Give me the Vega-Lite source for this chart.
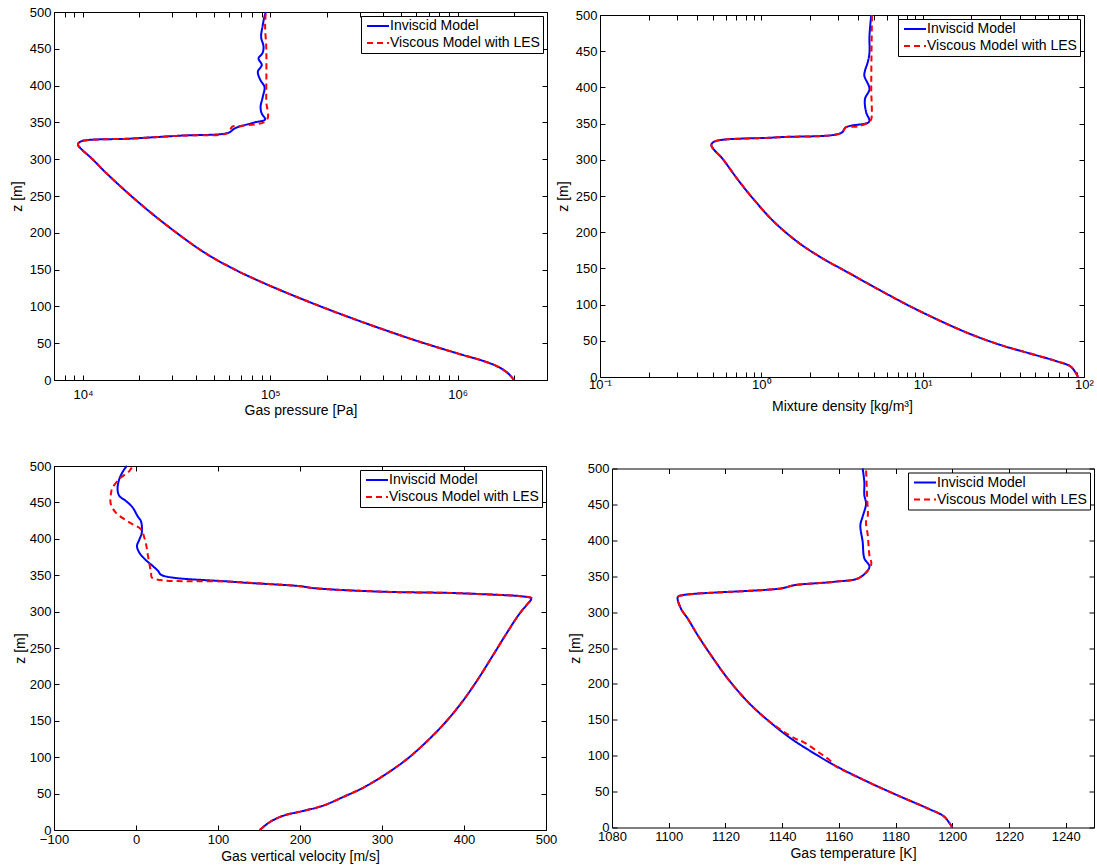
{
  "$schema": "https://vega.github.io/schema/vega-lite/v6.json",
  "padding": {"left": 9, "top": 5, "right": 2, "bottom": 2},
  "background": "white",
  "datasets": {
    "pressure": [
      {"model": "Inviscid Model", "z": 0, "value": 2000000},
      {"model": "Inviscid Model", "z": 9, "value": 1860000},
      {"model": "Inviscid Model", "z": 18, "value": 1643000},
      {"model": "Inviscid Model", "z": 26, "value": 1366000},
      {"model": "Inviscid Model", "z": 35, "value": 1033000},
      {"model": "Inviscid Model", "z": 52, "value": 626000},
      {"model": "Inviscid Model", "z": 68, "value": 408000},
      {"model": "Inviscid Model", "z": 84, "value": 272000},
      {"model": "Inviscid Model", "z": 102, "value": 176900},
      {"model": "Inviscid Model", "z": 122, "value": 113100},
      {"model": "Inviscid Model", "z": 137, "value": 82900},
      {"model": "Inviscid Model", "z": 150, "value": 64700},
      {"model": "Inviscid Model", "z": 173, "value": 44600},
      {"model": "Inviscid Model", "z": 208, "value": 28700},
      {"model": "Inviscid Model", "z": 245, "value": 19040},
      {"model": "Inviscid Model", "z": 281, "value": 13330},
      {"model": "Inviscid Model", "z": 300, "value": 11240},
      {"model": "Inviscid Model", "z": 320, "value": 9400},
      {"model": "Inviscid Model", "z": 324, "value": 9700},
      {"model": "Inviscid Model", "z": 328, "value": 18000},
      {"model": "Inviscid Model", "z": 332, "value": 33200},
      {"model": "Inviscid Model", "z": 336, "value": 59800},
      {"model": "Inviscid Model", "z": 342, "value": 64700},
      {"model": "Inviscid Model", "z": 350, "value": 82600},
      {"model": "Inviscid Model", "z": 354, "value": 93800},
      {"model": "Inviscid Model", "z": 362, "value": 90000},
      {"model": "Inviscid Model", "z": 371, "value": 88700},
      {"model": "Inviscid Model", "z": 385, "value": 91200},
      {"model": "Inviscid Model", "z": 398, "value": 93100},
      {"model": "Inviscid Model", "z": 408, "value": 88300},
      {"model": "Inviscid Model", "z": 419, "value": 85800},
      {"model": "Inviscid Model", "z": 428, "value": 90000},
      {"model": "Inviscid Model", "z": 437, "value": 86500},
      {"model": "Inviscid Model", "z": 444, "value": 90800},
      {"model": "Inviscid Model", "z": 453, "value": 92000},
      {"model": "Inviscid Model", "z": 466, "value": 89300},
      {"model": "Inviscid Model", "z": 480, "value": 90800},
      {"model": "Inviscid Model", "z": 494, "value": 93100},
      {"model": "Inviscid Model", "z": 500, "value": 94600},
      {"model": "Viscous Model with LES", "z": 0, "value": 2000000},
      {"model": "Viscous Model with LES", "z": 9, "value": 1860000},
      {"model": "Viscous Model with LES", "z": 18, "value": 1643000},
      {"model": "Viscous Model with LES", "z": 26, "value": 1366000},
      {"model": "Viscous Model with LES", "z": 35, "value": 1033000},
      {"model": "Viscous Model with LES", "z": 52, "value": 626000},
      {"model": "Viscous Model with LES", "z": 68, "value": 408000},
      {"model": "Viscous Model with LES", "z": 84, "value": 272000},
      {"model": "Viscous Model with LES", "z": 102, "value": 176900},
      {"model": "Viscous Model with LES", "z": 122, "value": 113100},
      {"model": "Viscous Model with LES", "z": 137, "value": 82900},
      {"model": "Viscous Model with LES", "z": 150, "value": 64700},
      {"model": "Viscous Model with LES", "z": 173, "value": 44600},
      {"model": "Viscous Model with LES", "z": 208, "value": 28700},
      {"model": "Viscous Model with LES", "z": 245, "value": 19040},
      {"model": "Viscous Model with LES", "z": 281, "value": 13330},
      {"model": "Viscous Model with LES", "z": 300, "value": 11240},
      {"model": "Viscous Model with LES", "z": 320, "value": 9400},
      {"model": "Viscous Model with LES", "z": 324, "value": 9700},
      {"model": "Viscous Model with LES", "z": 328, "value": 18000},
      {"model": "Viscous Model with LES", "z": 332, "value": 33200},
      {"model": "Viscous Model with LES", "z": 336, "value": 59800},
      {"model": "Viscous Model with LES", "z": 344, "value": 62400},
      {"model": "Viscous Model with LES", "z": 345.5, "value": 70500},
      {"model": "Viscous Model with LES", "z": 353, "value": 95700},
      {"model": "Viscous Model with LES", "z": 380, "value": 95100},
      {"model": "Viscous Model with LES", "z": 420, "value": 95300},
      {"model": "Viscous Model with LES", "z": 453, "value": 95100},
      {"model": "Viscous Model with LES", "z": 480, "value": 93800},
      {"model": "Viscous Model with LES", "z": 500, "value": 94600}
    ],
    "density": [
      {"model": "Inviscid Model", "z": 0, "value": 91.8},
      {"model": "Inviscid Model", "z": 14, "value": 83.2},
      {"model": "Inviscid Model", "z": 22, "value": 67.1},
      {"model": "Inviscid Model", "z": 32, "value": 47.0},
      {"model": "Inviscid Model", "z": 44, "value": 30.6},
      {"model": "Inviscid Model", "z": 59, "value": 19.9},
      {"model": "Inviscid Model", "z": 77, "value": 13.0},
      {"model": "Inviscid Model", "z": 97, "value": 8.47},
      {"model": "Inviscid Model", "z": 119, "value": 5.52},
      {"model": "Inviscid Model", "z": 142, "value": 3.60},
      {"model": "Inviscid Model", "z": 166, "value": 2.31},
      {"model": "Inviscid Model", "z": 186, "value": 1.69},
      {"model": "Inviscid Model", "z": 215, "value": 1.19},
      {"model": "Inviscid Model", "z": 246, "value": 0.891},
      {"model": "Inviscid Model", "z": 273, "value": 0.713},
      {"model": "Inviscid Model", "z": 301, "value": 0.577},
      {"model": "Inviscid Model", "z": 320, "value": 0.49},
      {"model": "Inviscid Model", "z": 325, "value": 0.51},
      {"model": "Inviscid Model", "z": 331, "value": 1.25},
      {"model": "Inviscid Model", "z": 337, "value": 3.12},
      {"model": "Inviscid Model", "z": 345, "value": 3.35},
      {"model": "Inviscid Model", "z": 351, "value": 4.57},
      {"model": "Inviscid Model", "z": 354, "value": 4.68},
      {"model": "Inviscid Model", "z": 366, "value": 4.46},
      {"model": "Inviscid Model", "z": 384, "value": 4.39},
      {"model": "Inviscid Model", "z": 398, "value": 4.68},
      {"model": "Inviscid Model", "z": 416, "value": 4.35},
      {"model": "Inviscid Model", "z": 423, "value": 4.39},
      {"model": "Inviscid Model", "z": 435, "value": 4.57},
      {"model": "Inviscid Model", "z": 448, "value": 4.68},
      {"model": "Inviscid Model", "z": 471, "value": 4.68},
      {"model": "Inviscid Model", "z": 500, "value": 4.80},
      {"model": "Viscous Model with LES", "z": 0, "value": 91.8},
      {"model": "Viscous Model with LES", "z": 14, "value": 83.2},
      {"model": "Viscous Model with LES", "z": 22, "value": 67.1},
      {"model": "Viscous Model with LES", "z": 32, "value": 47.0},
      {"model": "Viscous Model with LES", "z": 44, "value": 30.6},
      {"model": "Viscous Model with LES", "z": 59, "value": 19.9},
      {"model": "Viscous Model with LES", "z": 77, "value": 13.0},
      {"model": "Viscous Model with LES", "z": 97, "value": 8.47},
      {"model": "Viscous Model with LES", "z": 119, "value": 5.52},
      {"model": "Viscous Model with LES", "z": 142, "value": 3.60},
      {"model": "Viscous Model with LES", "z": 166, "value": 2.31},
      {"model": "Viscous Model with LES", "z": 186, "value": 1.69},
      {"model": "Viscous Model with LES", "z": 215, "value": 1.19},
      {"model": "Viscous Model with LES", "z": 246, "value": 0.891},
      {"model": "Viscous Model with LES", "z": 273, "value": 0.713},
      {"model": "Viscous Model with LES", "z": 301, "value": 0.577},
      {"model": "Viscous Model with LES", "z": 320, "value": 0.49},
      {"model": "Viscous Model with LES", "z": 325, "value": 0.51},
      {"model": "Viscous Model with LES", "z": 331, "value": 1.25},
      {"model": "Viscous Model with LES", "z": 337, "value": 3.12},
      {"model": "Viscous Model with LES", "z": 345, "value": 3.35},
      {"model": "Viscous Model with LES", "z": 346, "value": 3.95},
      {"model": "Viscous Model with LES", "z": 352.6, "value": 4.68},
      {"model": "Viscous Model with LES", "z": 356, "value": 4.80},
      {"model": "Viscous Model with LES", "z": 400, "value": 4.80},
      {"model": "Viscous Model with LES", "z": 450, "value": 4.82},
      {"model": "Viscous Model with LES", "z": 500, "value": 4.85}
    ],
    "velocity": [
      {"model": "Inviscid Model", "z": 0, "value": 151},
      {"model": "Inviscid Model", "z": 10, "value": 162},
      {"model": "Inviscid Model", "z": 19, "value": 178},
      {"model": "Inviscid Model", "z": 26, "value": 203},
      {"model": "Inviscid Model", "z": 33, "value": 227},
      {"model": "Inviscid Model", "z": 47, "value": 256},
      {"model": "Inviscid Model", "z": 58, "value": 277},
      {"model": "Inviscid Model", "z": 74, "value": 301},
      {"model": "Inviscid Model", "z": 97, "value": 330},
      {"model": "Inviscid Model", "z": 122, "value": 355},
      {"model": "Inviscid Model", "z": 150, "value": 379},
      {"model": "Inviscid Model", "z": 177, "value": 398.4},
      {"model": "Inviscid Model", "z": 205, "value": 415.8},
      {"model": "Inviscid Model", "z": 237, "value": 433.7},
      {"model": "Inviscid Model", "z": 269, "value": 451.3},
      {"model": "Inviscid Model", "z": 296, "value": 467},
      {"model": "Inviscid Model", "z": 310, "value": 477},
      {"model": "Inviscid Model", "z": 318, "value": 482},
      {"model": "Inviscid Model", "z": 321, "value": 470},
      {"model": "Inviscid Model", "z": 323, "value": 441},
      {"model": "Inviscid Model", "z": 325.6, "value": 383},
      {"model": "Inviscid Model", "z": 327.3, "value": 301},
      {"model": "Inviscid Model", "z": 332, "value": 219},
      {"model": "Inviscid Model", "z": 335, "value": 199},
      {"model": "Inviscid Model", "z": 341, "value": 117},
      {"model": "Inviscid Model", "z": 350.3, "value": 31},
      {"model": "Inviscid Model", "z": 355.8, "value": 27},
      {"model": "Inviscid Model", "z": 362.6, "value": 20.5},
      {"model": "Inviscid Model", "z": 370.4, "value": 12.3},
      {"model": "Inviscid Model", "z": 381, "value": 4.1},
      {"model": "Inviscid Model", "z": 390, "value": 1.2},
      {"model": "Inviscid Model", "z": 399, "value": 4.1},
      {"model": "Inviscid Model", "z": 408, "value": 7},
      {"model": "Inviscid Model", "z": 424, "value": 6.1},
      {"model": "Inviscid Model", "z": 431, "value": 2},
      {"model": "Inviscid Model", "z": 443, "value": -4.1},
      {"model": "Inviscid Model", "z": 452, "value": -12.3},
      {"model": "Inviscid Model", "z": 459, "value": -20.4},
      {"model": "Inviscid Model", "z": 468, "value": -22.5},
      {"model": "Inviscid Model", "z": 482, "value": -20.4},
      {"model": "Inviscid Model", "z": 495.5, "value": -14.3},
      {"model": "Inviscid Model", "z": 500, "value": -11.1},
      {"model": "Viscous Model with LES", "z": 0, "value": 151},
      {"model": "Viscous Model with LES", "z": 10, "value": 162},
      {"model": "Viscous Model with LES", "z": 19, "value": 178},
      {"model": "Viscous Model with LES", "z": 26, "value": 203},
      {"model": "Viscous Model with LES", "z": 33, "value": 227},
      {"model": "Viscous Model with LES", "z": 47, "value": 256},
      {"model": "Viscous Model with LES", "z": 58, "value": 277},
      {"model": "Viscous Model with LES", "z": 74, "value": 301},
      {"model": "Viscous Model with LES", "z": 97, "value": 330},
      {"model": "Viscous Model with LES", "z": 122, "value": 355},
      {"model": "Viscous Model with LES", "z": 150, "value": 379},
      {"model": "Viscous Model with LES", "z": 177, "value": 398.4},
      {"model": "Viscous Model with LES", "z": 205, "value": 415.8},
      {"model": "Viscous Model with LES", "z": 237, "value": 433.7},
      {"model": "Viscous Model with LES", "z": 269, "value": 451.3},
      {"model": "Viscous Model with LES", "z": 296, "value": 467},
      {"model": "Viscous Model with LES", "z": 310, "value": 477},
      {"model": "Viscous Model with LES", "z": 318, "value": 483},
      {"model": "Viscous Model with LES", "z": 321, "value": 470},
      {"model": "Viscous Model with LES", "z": 323, "value": 441},
      {"model": "Viscous Model with LES", "z": 325.6, "value": 383},
      {"model": "Viscous Model with LES", "z": 327.3, "value": 301},
      {"model": "Viscous Model with LES", "z": 332, "value": 219},
      {"model": "Viscous Model with LES", "z": 335, "value": 199},
      {"model": "Viscous Model with LES", "z": 341, "value": 117},
      {"model": "Viscous Model with LES", "z": 346.6, "value": 19.6},
      {"model": "Viscous Model with LES", "z": 353.4, "value": 18.4},
      {"model": "Viscous Model with LES", "z": 365, "value": 16.4},
      {"model": "Viscous Model with LES", "z": 378.7, "value": 14.3},
      {"model": "Viscous Model with LES", "z": 392.4, "value": 12.3},
      {"model": "Viscous Model with LES", "z": 401.5, "value": 10.2},
      {"model": "Viscous Model with LES", "z": 413, "value": 6.1},
      {"model": "Viscous Model with LES", "z": 420, "value": -4.1},
      {"model": "Viscous Model with LES", "z": 427, "value": -14.3},
      {"model": "Viscous Model with LES", "z": 436, "value": -24.6},
      {"model": "Viscous Model with LES", "z": 447.4, "value": -30.7},
      {"model": "Viscous Model with LES", "z": 461, "value": -30.7},
      {"model": "Viscous Model with LES", "z": 470, "value": -28.7},
      {"model": "Viscous Model with LES", "z": 484, "value": -18.5},
      {"model": "Viscous Model with LES", "z": 493, "value": -8.2},
      {"model": "Viscous Model with LES", "z": 500, "value": -4.1}
    ],
    "temperature": [
      {"model": "Inviscid Model", "z": 0, "value": 1200},
      {"model": "Inviscid Model", "z": 15, "value": 1197.2},
      {"model": "Inviscid Model", "z": 26.5, "value": 1191.4},
      {"model": "Inviscid Model", "z": 42.7, "value": 1181.9},
      {"model": "Inviscid Model", "z": 63.6, "value": 1170.2},
      {"model": "Inviscid Model", "z": 86.8, "value": 1158.4},
      {"model": "Inviscid Model", "z": 103, "value": 1151.4},
      {"model": "Inviscid Model", "z": 124, "value": 1143.1},
      {"model": "Inviscid Model", "z": 149.5, "value": 1134.9},
      {"model": "Inviscid Model", "z": 175, "value": 1127.9},
      {"model": "Inviscid Model", "z": 207.5, "value": 1120.8},
      {"model": "Inviscid Model", "z": 240, "value": 1114.9},
      {"model": "Inviscid Model", "z": 268, "value": 1110.2},
      {"model": "Inviscid Model", "z": 291, "value": 1106.7},
      {"model": "Inviscid Model", "z": 305, "value": 1104.3},
      {"model": "Inviscid Model", "z": 321, "value": 1103.2},
      {"model": "Inviscid Model", "z": 323.6, "value": 1104.9},
      {"model": "Inviscid Model", "z": 333, "value": 1139.6},
      {"model": "Inviscid Model", "z": 337.5, "value": 1144.3},
      {"model": "Inviscid Model", "z": 342.2, "value": 1158.4},
      {"model": "Inviscid Model", "z": 347.8, "value": 1167.2},
      {"model": "Inviscid Model", "z": 363, "value": 1170.8},
      {"model": "Inviscid Model", "z": 375, "value": 1169},
      {"model": "Inviscid Model", "z": 398, "value": 1168.4},
      {"model": "Inviscid Model", "z": 421, "value": 1167.6},
      {"model": "Inviscid Model", "z": 433, "value": 1168.4},
      {"model": "Inviscid Model", "z": 451, "value": 1169.6},
      {"model": "Inviscid Model", "z": 463, "value": 1169},
      {"model": "Inviscid Model", "z": 481, "value": 1169},
      {"model": "Inviscid Model", "z": 500, "value": 1168.4},
      {"model": "Viscous Model with LES", "z": 0, "value": 1200},
      {"model": "Viscous Model with LES", "z": 15, "value": 1197.2},
      {"model": "Viscous Model with LES", "z": 26.5, "value": 1191.4},
      {"model": "Viscous Model with LES", "z": 42.7, "value": 1181.9},
      {"model": "Viscous Model with LES", "z": 63.6, "value": 1170.2},
      {"model": "Viscous Model with LES", "z": 86.8, "value": 1158.4},
      {"model": "Viscous Model with LES", "z": 93, "value": 1157},
      {"model": "Viscous Model with LES", "z": 103, "value": 1153.5},
      {"model": "Viscous Model with LES", "z": 119, "value": 1147.5},
      {"model": "Viscous Model with LES", "z": 124, "value": 1144.5},
      {"model": "Viscous Model with LES", "z": 149.5, "value": 1134.9},
      {"model": "Viscous Model with LES", "z": 175, "value": 1127.9},
      {"model": "Viscous Model with LES", "z": 207.5, "value": 1120.8},
      {"model": "Viscous Model with LES", "z": 240, "value": 1114.9},
      {"model": "Viscous Model with LES", "z": 268, "value": 1110.2},
      {"model": "Viscous Model with LES", "z": 291, "value": 1106.7},
      {"model": "Viscous Model with LES", "z": 305, "value": 1104.3},
      {"model": "Viscous Model with LES", "z": 321, "value": 1103.2},
      {"model": "Viscous Model with LES", "z": 323.6, "value": 1104.9},
      {"model": "Viscous Model with LES", "z": 333, "value": 1139.6},
      {"model": "Viscous Model with LES", "z": 337.5, "value": 1144.3},
      {"model": "Viscous Model with LES", "z": 342.2, "value": 1158.4},
      {"model": "Viscous Model with LES", "z": 347.8, "value": 1167.2},
      {"model": "Viscous Model with LES", "z": 366, "value": 1171.4},
      {"model": "Viscous Model with LES", "z": 379, "value": 1170.8},
      {"model": "Viscous Model with LES", "z": 407, "value": 1170.2},
      {"model": "Viscous Model with LES", "z": 426, "value": 1169.6},
      {"model": "Viscous Model with LES", "z": 434, "value": 1170.2},
      {"model": "Viscous Model with LES", "z": 458, "value": 1170},
      {"model": "Viscous Model with LES", "z": 500, "value": 1169.6}
    ]
  },
  "concat": [
    {
      "hconcat": [
        {
          "width": 493,
          "height": 368,
          "data": {"name": "pressure"},
          "resolve": {"scale": {"x": "independent", "y": "independent"}},
          "layer": [
            {
              "mark": {"type": "line", "strokeWidth": 2, "interpolate": "catmull-rom"},
              "encoding": {
                "x": {"field": "value", "type": "quantitative",
                  "scale": {"type": "log", "domain": [7000, 3000000], "nice": false},
                  "axis": {"orient": "bottom", "title": "Gas pressure [Pa]", "labelPadding": 13,
                    "values": [7000, 8000, 9000, 10000, 20000, 30000, 40000, 50000, 60000, 70000, 80000, 90000, 100000, 200000, 300000, 400000, 500000, 600000, 700000, 800000, 900000, 1000000, 2000000, 3000000],
                    "labelExpr": "datum.value == 10000 ? '10⁴' : datum.value == 100000 ? '10⁵' : datum.value == 1000000 ? '10⁶' : ''"}},
                "y": {"field": "z", "type": "quantitative",
                  "scale": {"domain": [0, 500], "nice": false, "zero": false},
                  "axis": {"orient": "left", "title": "z [m]", "values": [0, 50, 100, 150, 200, 250, 300, 350, 400, 450, 500]}},
                "order": {"field": "z", "type": "quantitative"},
                "color": {"field": "model", "type": "nominal",
                  "scale": {"domain": ["Inviscid Model", "Viscous Model with LES"], "range": ["#0000ff", "#ff0000"]},
                  "legend": {"title": null}},
                "strokeDash": {"field": "model", "type": "nominal",
                  "scale": {"domain": ["Inviscid Model", "Viscous Model with LES"], "range": [[1, 0], [6, 4]]},
                  "legend": {"title": null}}
              }
            },
            {
              "mark": {"type": "point", "opacity": 0},
              "encoding": {
                "x": {"field": "value", "type": "quantitative",
                  "scale": {"type": "log", "domain": [7000, 3000000], "nice": false},
                  "axis": {"orient": "top", "labels": false, "title": null,
                    "values": [7000, 8000, 9000, 10000, 20000, 30000, 40000, 50000, 60000, 70000, 80000, 90000, 100000, 200000, 300000, 400000, 500000, 600000, 700000, 800000, 900000, 1000000, 2000000, 3000000]}},
                "y": {"field": "z", "type": "quantitative",
                  "scale": {"domain": [0, 500], "nice": false, "zero": false},
                  "axis": {"orient": "right", "labels": false, "title": null, "values": [0, 50, 100, 150, 200, 250, 300, 350, 400, 450, 500]}}
              }
            }
          ]
        },
        {
          "width": 484,
          "height": 362,
          "data": {"name": "density"},
          "resolve": {"scale": {"x": "independent", "y": "independent"}},
          "layer": [
            {
              "mark": {"type": "line", "strokeWidth": 2, "interpolate": "catmull-rom"},
              "encoding": {
                "x": {"field": "value", "type": "quantitative",
                  "scale": {"type": "log", "domain": [0.1, 100], "nice": false},
                  "axis": {"orient": "bottom", "title": "Mixture density [kg/m³]", "labelPadding": 6, "titlePadding": 8,
                    "values": [0.1, 0.2, 0.3, 0.4, 0.5, 0.6, 0.7, 0.8, 0.9, 1, 2, 3, 4, 5, 6, 7, 8, 9, 10, 20, 30, 40, 50, 60, 70, 80, 90, 100],
                    "labelExpr": "datum.value == 0.1 ? '10⁻¹' : datum.value == 1 ? '10⁰' : datum.value == 10 ? '10¹' : datum.value == 100 ? '10²' : ''"}},
                "y": {"field": "z", "type": "quantitative",
                  "scale": {"domain": [0, 500], "nice": false, "zero": false},
                  "axis": {"orient": "left", "title": "z [m]", "values": [0, 50, 100, 150, 200, 250, 300, 350, 400, 450, 500]}},
                "order": {"field": "z", "type": "quantitative"},
                "color": {"field": "model", "type": "nominal",
                  "scale": {"domain": ["Inviscid Model", "Viscous Model with LES"], "range": ["#0000ff", "#ff0000"]},
                  "legend": {"title": null}},
                "strokeDash": {"field": "model", "type": "nominal",
                  "scale": {"domain": ["Inviscid Model", "Viscous Model with LES"], "range": [[1, 0], [6, 4]]},
                  "legend": {"title": null}}
              }
            },
            {
              "mark": {"type": "point", "opacity": 0},
              "encoding": {
                "x": {"field": "value", "type": "quantitative",
                  "scale": {"type": "log", "domain": [0.1, 100], "nice": false},
                  "axis": {"orient": "top", "labels": false, "title": null,
                    "values": [0.1, 0.2, 0.3, 0.4, 0.5, 0.6, 0.7, 0.8, 0.9, 1, 2, 3, 4, 5, 6, 7, 8, 9, 10, 20, 30, 40, 50, 60, 70, 80, 90, 100]}},
                "y": {"field": "z", "type": "quantitative",
                  "scale": {"domain": [0, 500], "nice": false, "zero": false},
                  "axis": {"orient": "right", "labels": false, "title": null, "values": [0, 50, 100, 150, 200, 250, 300, 350, 400, 450, 500]}}
              }
            }
          ]
        }
      ],
      "spacing": 53,
      "bounds": "flush",
      "center": true,
      "resolve": {"scale": {"color": "independent", "strokeDash": "independent"}, "legend": {"color": "independent", "strokeDash": "independent"}}
    },
    {
      "hconcat": [
        {
          "width": 492,
          "height": 364,
          "data": {"name": "velocity"},
          "resolve": {"scale": {"x": "independent", "y": "independent"}},
          "layer": [
            {
              "mark": {"type": "line", "strokeWidth": 2, "interpolate": "catmull-rom"},
              "encoding": {
                "x": {"field": "value", "type": "quantitative",
                  "scale": {"domain": [-100, 500], "nice": false, "zero": false},
                  "axis": {"orient": "bottom", "title": "Gas vertical velocity [m/s]", "labelPadding": 8, "titlePadding": 3, "values": [-100, 0, 100, 200, 300, 400, 500]}},
                "y": {"field": "z", "type": "quantitative",
                  "scale": {"domain": [0, 500], "nice": false, "zero": false},
                  "axis": {"orient": "left", "title": "z [m]", "titlePadding": 2, "values": [0, 50, 100, 150, 200, 250, 300, 350, 400, 450, 500]}},
                "order": {"field": "z", "type": "quantitative"},
                "color": {"field": "model", "type": "nominal",
                  "scale": {"domain": ["Inviscid Model", "Viscous Model with LES"], "range": ["#0000ff", "#ff0000"]},
                  "legend": {"title": null}},
                "strokeDash": {"field": "model", "type": "nominal",
                  "scale": {"domain": ["Inviscid Model", "Viscous Model with LES"], "range": [[1, 0], [6, 4]]},
                  "legend": {"title": null}}
              }
            },
            {
              "mark": {"type": "point", "opacity": 0},
              "encoding": {
                "x": {"field": "value", "type": "quantitative",
                  "scale": {"domain": [-100, 500], "nice": false, "zero": false},
                  "axis": {"orient": "top", "labels": false, "title": null, "values": [-100, 0, 100, 200, 300, 400, 500]}},
                "y": {"field": "z", "type": "quantitative",
                  "scale": {"domain": [0, 500], "nice": false, "zero": false},
                  "axis": {"orient": "right", "labels": false, "title": null, "values": [0, 50, 100, 150, 200, 250, 300, 350, 400, 450, 500]}}
              }
            }
          ]
        },
        {
          "width": 482,
          "height": 359,
          "data": {"name": "temperature"},
          "resolve": {"scale": {"x": "independent", "y": "independent"}},
          "layer": [
            {
              "mark": {"type": "line", "strokeWidth": 2, "interpolate": "catmull-rom"},
              "encoding": {
                "x": {"field": "value", "type": "quantitative",
                  "scale": {"domain": [1080, 1250], "nice": false, "zero": false},
                  "axis": {"orient": "bottom", "title": "Gas temperature [K]", "labelPadding": 8, "titlePadding": 3, "values": [1080, 1100, 1120, 1140, 1160, 1180, 1200, 1220, 1240], "format": "d"}},
                "y": {"field": "z", "type": "quantitative",
                  "scale": {"domain": [0, 500], "nice": false, "zero": false},
                  "axis": {"orient": "left", "title": "z [m]", "values": [0, 50, 100, 150, 200, 250, 300, 350, 400, 450, 500]}},
                "order": {"field": "z", "type": "quantitative"},
                "color": {"field": "model", "type": "nominal",
                  "scale": {"domain": ["Inviscid Model", "Viscous Model with LES"], "range": ["#0000ff", "#ff0000"]},
                  "legend": {"title": null}},
                "strokeDash": {"field": "model", "type": "nominal",
                  "scale": {"domain": ["Inviscid Model", "Viscous Model with LES"], "range": [[1, 0], [6, 4]]},
                  "legend": {"title": null}}
              }
            },
            {
              "mark": {"type": "point", "opacity": 0},
              "encoding": {
                "x": {"field": "value", "type": "quantitative",
                  "scale": {"domain": [1080, 1250], "nice": false, "zero": false},
                  "axis": {"orient": "top", "labels": false, "title": null, "values": [1080, 1100, 1120, 1140, 1160, 1180, 1200, 1220, 1240]}},
                "y": {"field": "z", "type": "quantitative",
                  "scale": {"domain": [0, 500], "nice": false, "zero": false},
                  "axis": {"orient": "right", "labels": false, "title": null, "values": [0, 50, 100, 150, 200, 250, 300, 350, 400, 450, 500]}}
              }
            }
          ]
        }
      ],
      "spacing": 66,
      "bounds": "flush",
      "center": true,
      "resolve": {"scale": {"color": "independent", "strokeDash": "independent"}, "legend": {"color": "independent", "strokeDash": "independent"}}
    }
  ],
  "columns": 1,
  "align": "none",
  "spacing": 41,
  "resolve": {"scale": {"color": "independent", "strokeDash": "independent"}, "legend": {"color": "independent", "strokeDash": "independent"}},
  "config": {
    "font": "Liberation Sans",
    "view": {"stroke": "#000000", "strokeWidth": 1},
    "axis": {
      "grid": false,
      "domain": false,
      "tickColor": "#000000",
      "tickSize": -5,
      "tickWidth": 1,
      "labelColor": "#000000",
      "labelFontSize": 13,
      "labelPadding": 8,
      "labelFlush": false,
      "labelOverlap": false,
      "titleColor": "#000000",
      "titleFontSize": 14,
      "titleFontWeight": "normal",
      "titlePadding": 2
    },
    "axisY": {"titlePadding": 5},
    "legend": {
      "orient": "top-right",
      "offset": 4,
      "fillColor": "#ffffff",
      "strokeColor": "#000000",
      "padding": 3,
      "symbolType": "stroke",
      "symbolSize": 484,
      "symbolStrokeWidth": 2,
      "symbolOffset": 2,
      "clipHeight": 14,
      "labelFontSize": 14,
      "labelColor": "#000000",
      "labelOffset": 0,
      "labelLimit": 300,
      "rowPadding": 3
    }
  }
}
